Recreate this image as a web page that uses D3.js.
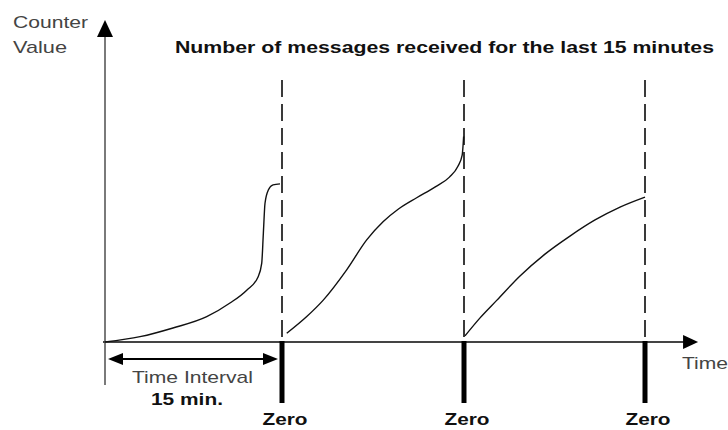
<!DOCTYPE html>
<html>
<head>
<meta charset="utf-8">
<script src="https://cdn.jsdelivr.net/npm/d3@7"></script>
<style>
  html, body { margin: 0; padding: 0; background: #fff; }
  svg { display: block; font-family: "Liberation Sans", Arial, sans-serif; }
</style>
</head>
<body>
<svg id="chart" width="728" height="430"></svg>
<script>
// ---- data (minutes, counter value) ----
const resetMinutes = [15, 30, 45];
const zeroLabels = ["Zero", "Zero", "Zero"];

const period1Minutes = [0, 2.97, 5.76, 8.62, 10.59, 12.01, 12.97, 13.28, 13.42, 13.56, 13.84, 14.24, 14.83];
const period1Values  = [0, 1.65, 4.35, 7.85, 12.1, 16.1, 20.2, 24.4, 33.8, 43.1, 47.2, 48.8, 49.1];

const period2Minutes = [15.39, 17.04, 18.40, 20.33, 21.98, 23.35, 24.6, 26.1, 27.6, 28.8, 29.5, 29.85, 29.97];
const period2Values  = [2.7, 7.9, 13.0, 22.4, 31.7, 37.4, 41.3, 44.8, 48.1, 51.2, 54.6, 58.0, 63.8];

const period3Minutes = [30.08, 31.33, 32.73, 34.64, 36.71, 38.78, 40.86, 42.93, 45.0];
const period3Values  = [1.9, 7.5, 13.0, 20.5, 27.3, 32.9, 37.9, 41.9, 45.0];

const titleText = "Number of messages received for the last 15 minutes";
const yAxisLabel = ["Counter", "Value"];
const xAxisLabel = "Time";
const intervalLabel = ["Time Interval", "15 min."];

const xMaxMinutes = 49.4;   // end of time axis arrow
const yMaxValue = 100;      // end of counter axis arrow

// ---- scales ----
const x = d3.scaleLinear().domain([0, 15, 30, 45]).range([105, 282, 464, 645]);
const y = d3.scaleLinear().domain([0, yMaxValue]).range([342, 20]);

const svg = d3.select("#chart");

// ---- dashed reset lines ----
svg.selectAll("line.reset").data(resetMinutes).enter().append("line")
  .attr("class", "reset")
  .attr("x1", d => x(d)).attr("x2", d => x(d))
  .attr("y1", y(81.4)).attr("y2", y(0))
  .attr("stroke", "#3a3a3a").attr("stroke-width", 2)
  .attr("stroke-dasharray", "17,7");

// ---- axes ----
svg.append("line")
  .attr("x1", x(0)).attr("x2", x(0))
  .attr("y1", y(yMaxValue) + 15).attr("y2", y(0) + 43)
  .attr("stroke", "#7a7a7a").attr("stroke-width", 2);
svg.append("path")
  .attr("d", `M${x(0)},${y(yMaxValue)} L${x(0) - 8},${y(yMaxValue) + 17} L${x(0) + 8},${y(yMaxValue) + 17} Z`)
  .attr("fill", "#000");

svg.append("line")
  .attr("x1", x(0) - 2).attr("x2", x(xMaxMinutes) - 14)
  .attr("y1", y(0)).attr("y2", y(0))
  .attr("stroke", "#444").attr("stroke-width", 2);
svg.append("path")
  .attr("d", `M${x(xMaxMinutes)},${y(0)} L${x(xMaxMinutes) - 15},${y(0) - 7} L${x(xMaxMinutes) - 15},${y(0) + 7} Z`)
  .attr("fill", "#000");

// ---- zero markers ----
svg.selectAll("line.zero").data(resetMinutes).enter().append("line")
  .attr("class", "zero")
  .attr("x1", d => x(d)).attr("x2", d => x(d))
  .attr("y1", y(0) - 1).attr("y2", y(0) + 61)
  .attr("stroke", "#000").attr("stroke-width", 5);

svg.selectAll("text.zero").data(zeroLabels).enter().append("text")
  .attr("class", "zero")
  .attr("x", (d, i) => x(resetMinutes[i]) + 3 - 22.5)
  .attr("y", 425)
  .attr("font-size", 17).attr("font-weight", "bold").attr("fill", "#111")
  .attr("textLength", 45).attr("lengthAdjust", "spacingAndGlyphs")
  .text(d => d);

// ---- interval arrow ----
const ia = y(0) + 17;
const ix0 = x(0) + 3, ix1 = x(15) - 4;
svg.append("line")
  .attr("x1", ix0 + 10).attr("x2", ix1 - 10)
  .attr("y1", ia).attr("y2", ia)
  .attr("stroke", "#000").attr("stroke-width", 2);
svg.append("path")
  .attr("d", `M${ix0},${ia} L${ix0 + 15},${ia - 6} L${ix0 + 15},${ia + 6} Z`)
  .attr("fill", "#000");
svg.append("path")
  .attr("d", `M${ix1},${ia} L${ix1 - 15},${ia - 6} L${ix1 - 15},${ia + 6} Z`)
  .attr("fill", "#000");

svg.append("text")
  .attr("x", 132).attr("y", 383)
  .attr("font-size", 17).attr("fill", "#444")
  .attr("textLength", 121).attr("lengthAdjust", "spacingAndGlyphs")
  .text(intervalLabel[0]);
svg.append("text")
  .attr("x", 151).attr("y", 405)
  .attr("font-size", 17).attr("font-weight", "bold").attr("fill", "#111")
  .attr("textLength", 72).attr("lengthAdjust", "spacingAndGlyphs")
  .text(intervalLabel[1]);

// ---- curves ----
const line = d3.line()
  .x(d => x(d[0])).y(d => y(d[1]))
  .curve(d3.curveMonotoneX);

[[period1Minutes, period1Values], [period2Minutes, period2Values], [period3Minutes, period3Values]]
  .forEach(([ms, vs]) => {
    svg.append("path")
      .datum(ms.map((m, i) => [m, vs[i]]))
      .attr("d", line)
      .attr("fill", "none")
      .attr("stroke", "#111")
      .attr("stroke-width", 1.4);
  });

// ---- texts ----
svg.append("text")
  .attr("x", 175).attr("y", 53)
  .attr("font-size", 17).attr("font-weight", "bold").attr("fill", "#111")
  .attr("textLength", 539).attr("lengthAdjust", "spacingAndGlyphs")
  .text(titleText);

svg.append("text")
  .attr("x", 13).attr("y", 28)
  .attr("font-size", 17).attr("fill", "#444")
  .attr("textLength", 75).attr("lengthAdjust", "spacingAndGlyphs")
  .text(yAxisLabel[0]);
svg.append("text")
  .attr("x", 13).attr("y", 53)
  .attr("font-size", 17).attr("fill", "#444")
  .attr("textLength", 54).attr("lengthAdjust", "spacingAndGlyphs")
  .text(yAxisLabel[1]);

svg.append("text")
  .attr("x", 682).attr("y", 369)
  .attr("font-size", 17).attr("fill", "#444")
  .attr("textLength", 46).attr("lengthAdjust", "spacingAndGlyphs")
  .text(xAxisLabel);
</script>
</body>
</html>
